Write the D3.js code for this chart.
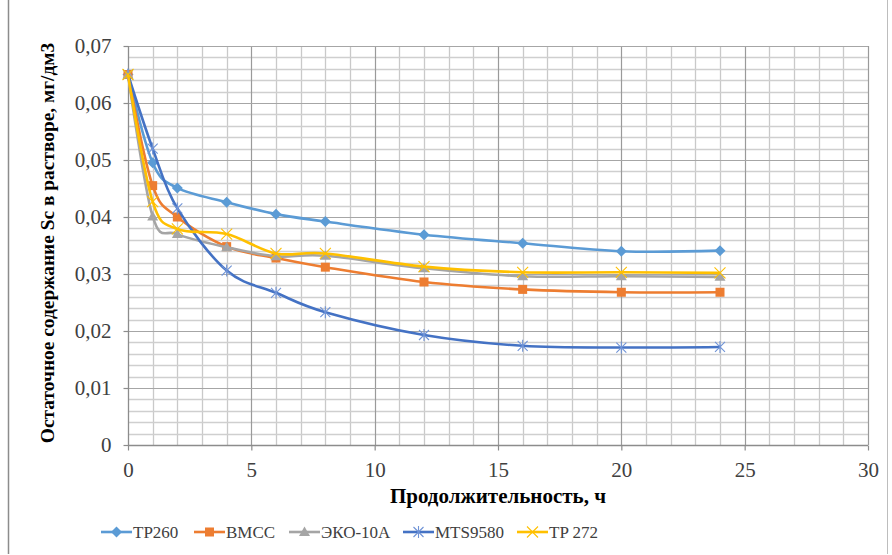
<!DOCTYPE html>
<html><head><meta charset="utf-8">
<script src="https://cdn.jsdelivr.net/npm/d3@7"></script>
<style>body{margin:0;background:#fff}svg{display:block}
svg text{font-family:"Liberation Serif","Times New Roman","DejaVu Serif",serif}</style>
</head><body>
<script>
const hours = [0, 1, 2, 4, 6, 8, 12, 16, 20, 24];
const seriesNames = ["TP260", "BMCC", "ЭКО-10А", "MTS9580", "TP 272"];
const tp260   = [0.065, 0.0495, 0.0451, 0.0426, 0.0405, 0.0392, 0.0369, 0.0354, 0.0340, 0.0341];
const bmcc    = [0.065, 0.0455, 0.0400, 0.0348, 0.0328, 0.0312, 0.0286, 0.0273, 0.0268, 0.0268];
const eko10a  = [0.065, 0.0401, 0.0370, 0.0347, 0.0331, 0.0332, 0.0310, 0.0296, 0.0296, 0.0295];
const mts9580 = [0.065, 0.0520, 0.0415, 0.0306, 0.0267, 0.0233, 0.0193, 0.0174, 0.0171, 0.0172];
const tp272   = [0.065, 0.0427, 0.0379, 0.0370, 0.0336, 0.0336, 0.0313, 0.0303, 0.0303, 0.0302];
const xTicks = [0, 5, 10, 15, 20, 25, 30];
const yTicks = [0, 0.01, 0.02, 0.03, 0.04, 0.05, 0.06, 0.07];
const yTickLabels = ["0", "0,01", "0,02", "0,03", "0,04", "0,05", "0,06", "0,07"];
const xTitle = "Продолжительность, ч";
const yTitle = "Остаточное содержание Sc в растворе, мг/дм3";

const W = 892, H = 555;
const m = {left: 128, right: 868, top: 46, bottom: 445};
const colors = ["#5B9BD5", "#ED7D31", "#A5A5A5", "#4472C4", "#FFC000"];
const markerColors = ["#5B9BD5", "#ED7D31", "#A5A5A5", "#6f93d6", "#FFC000"];
const markers = ["diamond", "square", "triangle", "star", "x"];
const values = [tp260, bmcc, eko10a, mts9580, tp272];

const svg = d3.select("body").append("svg").attr("width", W).attr("height", H);
const font = '"Liberation Serif","Times New Roman","DejaVu Serif",serif';

// chart frame
svg.append("line").attr("x1", 8.5).attr("x2", 8.5).attr("y1", 0).attr("y2", 554).attr("stroke", "#8c8c8c").attr("stroke-width", 1.5);
svg.append("line").attr("x1", 887.5).attr("x2", 887.5).attr("y1", 0).attr("y2", 554).attr("stroke", "#bdbdbd").attr("stroke-width", 1);

const x = d3.scaleLinear().domain([0, 30]).range([m.left, m.right]);
const y = d3.scaleLinear().domain([0, 0.07]).range([m.bottom, m.top]);

const g = svg.append("g");
// minor grid
const xMinor = d3.range(0, 31, 1).filter(v => v % 5 !== 0);
const yMinor = d3.range(0, 36, 1).filter(v => v % 5 !== 0).map(v => v * 0.002);
g.selectAll(".xm").data(xMinor).join("line")
  .attr("x1", d => Math.round(x(d)) + 0.5).attr("x2", d => Math.round(x(d)) + 0.5)
  .attr("y1", m.top).attr("y2", m.bottom).attr("stroke", "#c9c9c9").attr("stroke-width", 1.3);
g.selectAll(".ym").data(yMinor).join("line")
  .attr("y1", d => Math.round(y(d)) + 0.5).attr("y2", d => Math.round(y(d)) + 0.5)
  .attr("x1", m.left).attr("x2", m.right).attr("stroke", "#cfcfcf").attr("stroke-width", 1.3);
// major grid
g.selectAll(".xM").data(xTicks.slice(1)).join("line")
  .attr("x1", d => Math.round(x(d)) + 0.5).attr("x2", d => Math.round(x(d)) + 0.5)
  .attr("y1", m.top).attr("y2", m.bottom).attr("stroke", "#9a9a9a").attr("stroke-width", 1.2);
g.selectAll(".yM").data(yTicks.slice(1)).join("line")
  .attr("y1", d => Math.round(y(d)) + 0.5).attr("y2", d => Math.round(y(d)) + 0.5)
  .attr("x1", m.left).attr("x2", m.right).attr("stroke", "#a6a6a6").attr("stroke-width", 1.2);

// axes
const xAxis = d3.axisBottom(x).tickValues(xTicks).tickSize(5).tickFormat(d => d);
const yAxis = d3.axisLeft(y).tickValues(yTicks).tickSize(5).tickFormat((d, i) => yTickLabels[i]);
const gx = svg.append("g").attr("transform", `translate(0,${m.bottom + 0.5})`).call(xAxis);
const gy = svg.append("g").attr("transform", `translate(${m.left + 0.5},0)`).call(yAxis);
[gx, gy].forEach(a => {
  a.attr("font-family", null).attr("font-size", null);
  a.select(".domain").attr("stroke", "#8c8c8c").attr("stroke-width", 1.3);
  a.selectAll(".tick line").attr("stroke", "#8c8c8c").attr("stroke-width", 1.2);
  a.selectAll(".tick text").attr("fill", "#404040").style("font-family", font).style("font-size", "21px");
});
gx.select(".domain").attr("d", `M${m.left},0H${m.right}`);
gy.select(".domain").attr("d", `M0,${m.top}V${m.bottom}`);
gx.selectAll(".tick text").attr("dy", null).attr("y", 31);
gy.selectAll(".tick text").attr("x", -17).attr("dy", "0.33em");

// titles
svg.append("text").attr("x", 498).attr("y", 503).attr("text-anchor", "middle")
  .style("font-family", font).style("font-size", "21px").style("font-weight", "bold").attr("fill", "#000").text(xTitle);
svg.append("text").attr("transform", "translate(54,243) rotate(-90)").attr("text-anchor", "middle")
  .style("font-family", font).style("font-size", "19.4px").style("font-weight", "bold").attr("fill", "#000").text(yTitle);

// lines
const line = d3.line().x((d, i) => x(hours[i])).y(d => y(d)).curve(d3.curveCatmullRom.alpha(0));
function drawMarker(sel, type, color, cx, cy) {
  const s = 9;
  if (type === "diamond") {
    sel.append("path").attr("d", `M${cx},${cy - 5.5}L${cx + 5.5},${cy}L${cx},${cy + 5.5}L${cx - 5.5},${cy}Z`).attr("fill", color);
  } else if (type === "square") {
    sel.append("rect").attr("x", cx - 4.5).attr("y", cy - 4.5).attr("width", s).attr("height", s).attr("fill", color);
  } else if (type === "triangle") {
    sel.append("path").attr("d", `M${cx},${cy - 5.5}L${cx + 5.5},${cy + 4}L${cx - 5.5},${cy + 4}Z`).attr("fill", color);
  } else if (type === "star") {
    sel.append("path").attr("d", `M${cx - 5},${cy - 5}L${cx + 5},${cy + 5}M${cx - 5},${cy + 5}L${cx + 5},${cy - 5}M${cx},${cy - 6}L${cx},${cy + 6}`)
      .attr("stroke", color).attr("stroke-width", 1.1).attr("fill", "none");
  } else if (type === "x") {
    sel.append("path").attr("d", `M${cx - 5.5},${cy - 5.5}L${cx + 5.5},${cy + 5.5}M${cx - 5.5},${cy + 5.5}L${cx + 5.5},${cy - 5.5}`)
      .attr("stroke", color).attr("stroke-width", 1.1).attr("fill", "none");
  }
}
values.forEach((vals, si) => {
  const sg = svg.append("g");
  sg.append("path").datum(vals).attr("d", line).attr("fill", "none")
    .attr("stroke", colors[si]).attr("stroke-width", 2.6).attr("stroke-linejoin", "round");
  vals.forEach((v, i) => drawMarker(sg, markers[si], markerColors[si], x(hours[i]), y(v)));
});

// legend
const legendX = [101, 194, 289, 403, 517];
const lg = svg.append("g");
seriesNames.forEach((name, i) => {
  const lx = legendX[i], ly = 532;
  lg.append("line").attr("x1", lx).attr("x2", lx + 31).attr("y1", ly).attr("y2", ly)
    .attr("stroke", colors[i]).attr("stroke-width", 2.6);
  drawMarker(lg, markers[i], markerColors[i], lx + 15.5, ly);
  lg.append("text").attr("x", lx + 32).attr("y", ly + 6).style("font-family", font).style("font-size", "17px")
    .attr("fill", "#404040").text(name);
});
</script>
</body></html>
